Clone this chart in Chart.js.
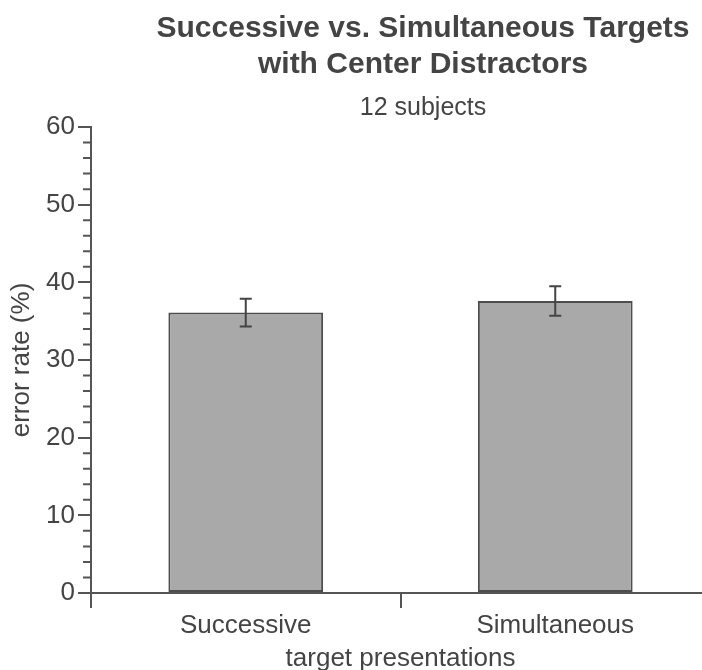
<!DOCTYPE html>
<html><head><meta charset="utf-8">
<script src="https://cdn.jsdelivr.net/npm/chart.js@4.4.1/dist/chart.umd.min.js"></script>
<style>html,body{margin:0;background:#fff;overflow:hidden}</style>
</head><body>
<canvas id="c" width="710" height="670"></canvas>
<script>
const categories=['Successive','Simultaneous'];
const errorRate=[36.1,37.6];
const errorSem=[1.8,1.9];
const yTicks={min:0,max:60,step:10,minorStep:2};
const titleLines=['Successive vs. Simultaneous Targets','with Center Distractors'];
const subtitleText='12 subjects';
const xTitle='target presentations', yTitle='error rate (%)';

const INK='#444', AXIS='#555', FONT='"Liberation Sans", Arial, sans-serif';

const errorBars={id:'errorBars',afterDatasetsDraw(ch){
  const {ctx,scales:{y}}=ch; const meta=ch.getDatasetMeta(0);
  ctx.save(); ctx.strokeStyle=INK; ctx.lineWidth=2;
  meta.data.forEach((b,i)=>{
    const t=y.getPixelForValue(errorRate[i]+errorSem[i]), bt=y.getPixelForValue(errorRate[i]-errorSem[i]);
    ctx.beginPath(); ctx.moveTo(b.x,t); ctx.lineTo(b.x,bt);
    ctx.moveTo(b.x-6,t); ctx.lineTo(b.x+6,t); ctx.moveTo(b.x-6,bt); ctx.lineTo(b.x+6,bt); ctx.stroke();
  });
  ctx.restore();
}};
const minorTicks={id:'minorTicks',afterDraw(ch){
  const {ctx,scales:{y},chartArea:a}=ch;
  ctx.save(); ctx.strokeStyle=AXIS; ctx.lineWidth=2; ctx.beginPath();
  for(let v=yTicks.min;v<=yTicks.max;v+=yTicks.minorStep){
    if(v%yTicks.step===0) continue;
    const py=y.getPixelForValue(v); ctx.moveTo(a.left-8,py); ctx.lineTo(a.left,py);
  }
  ctx.stroke(); ctx.restore();
}};
const titles={id:'titles',afterDraw(ch){
  const ctx=ch.ctx; ctx.save(); ctx.fillStyle=INK; ctx.textAlign='center'; ctx.textBaseline='alphabetic';
  ctx.font='bold 30px '+FONT; ctx.fillText(titleLines[0],423,37); ctx.fillText(titleLines[1],423,73);
  ctx.font='25px '+FONT; ctx.fillText(subtitleText,423,115);
  ctx.restore();
}};

new Chart(document.getElementById('c'),{
  type:'bar',
  data:{labels:categories,datasets:[{data:errorRate,backgroundColor:'#a9a9a9',borderColor:'#4d4d4d',borderWidth:2,borderSkipped:false,barPercentage:0.5,categoryPercentage:1}]},
  options:{responsive:false,animation:false,
    layout:{padding:{top:127,right:0,left:0,bottom:0}},
    plugins:{legend:{display:false},tooltip:{enabled:false}},
    scales:{
      x:{offset:true,
        grid:{offset:true,drawOnChartArea:false,drawTicks:true,tickLength:15,color:AXIS,lineWidth:2},
        border:{color:AXIS,width:2},
        ticks:{font:{size:26,family:FONT},color:INK,padding:2},
        title:{display:true,text:xTitle,font:{size:26,family:FONT,lineHeight:1},color:INK,padding:{top:0,bottom:-2}},
        afterFit:s=>{s.height=77;}},
      y:{min:yTicks.min,max:yTicks.max,
        grid:{drawOnChartArea:false,drawTicks:true,tickLength:13,color:AXIS,lineWidth:2},
        border:{color:AXIS,width:2},
        ticks:{stepSize:yTicks.step,font:{size:26,family:FONT},color:INK,padding:3},
        title:{display:true,text:yTitle,font:{size:26,family:FONT},color:INK,padding:{top:6,bottom:0}},
        afterFit:s=>{s.width=91;}}
    }
  },
  plugins:[errorBars,minorTicks,titles]
});
</script>
</body></html>
